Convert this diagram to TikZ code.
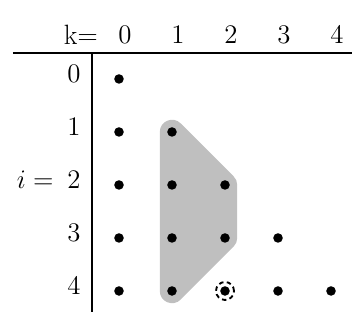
\documentclass[tikz,border=0pt]{standalone}
\usepackage{amsmath}
\usepackage{amssymb}
\usepackage{tikz}
\usetikzlibrary{positioning,calc}

\begin{document}
\begin{tikzpicture}[
    font=\fontsize{15}{18}\selectfont,
    pt/.style={circle, fill=black, inner sep=0pt, minimum size=0.18cm},
    lbl/.style={inner sep=0pt},
    hull/.style={fill=gray!50, draw=gray!50, line width=0.46cm, line join=round}
]
\useasboundingbox (-2.245,1.49) rectangle (4.396,-4.585);
% grid of points (k,i)
\foreach \i in {0,...,4} {
  \foreach \k in {0,...,\i} {
    \node[pt] (p\k\i) at (\k,-\i) {};
  }
}
% shaded region behind the points
\draw[hull] (p11.center) -- (p14.center) -- (p23.center) -- (p22.center) -- cycle;
\foreach \k/\i in {1/1,1/2,2/2,1/3,2/3,1/4} {
  \node[pt] at (p\k\i) {};
}
\draw[line width=1pt, dash pattern=on 2.4pt off 1.8pt] (p24) circle (0.17cm);
% header
\node[lbl] (hk) at (-0.72,0.83) {k=};
\foreach \k in {0,...,4} {
  \node[lbl] (h\k) at (\k+0.11,0.83) {$\k$};
}
\foreach \i in {0,...,4} {
  \node[lbl, anchor=east] (r\i) at (-0.72,-\i+0.1) {$\i$};
}
\node[lbl] (ieq) at (-1.58,-1.9) {$i=$};
% rules
\coordinate (hl) at (-2.0,0.49);
\coordinate (hr) at (4.4,0.49);
\coordinate (vt) at (-0.51,0.49);
\coordinate (vb) at (-0.51,-4.4);
\draw[line width=0.8pt] (hl) -- (hr);
\draw[line width=0.8pt] (vt) -- (vb);
\end{tikzpicture}
\end{document}
